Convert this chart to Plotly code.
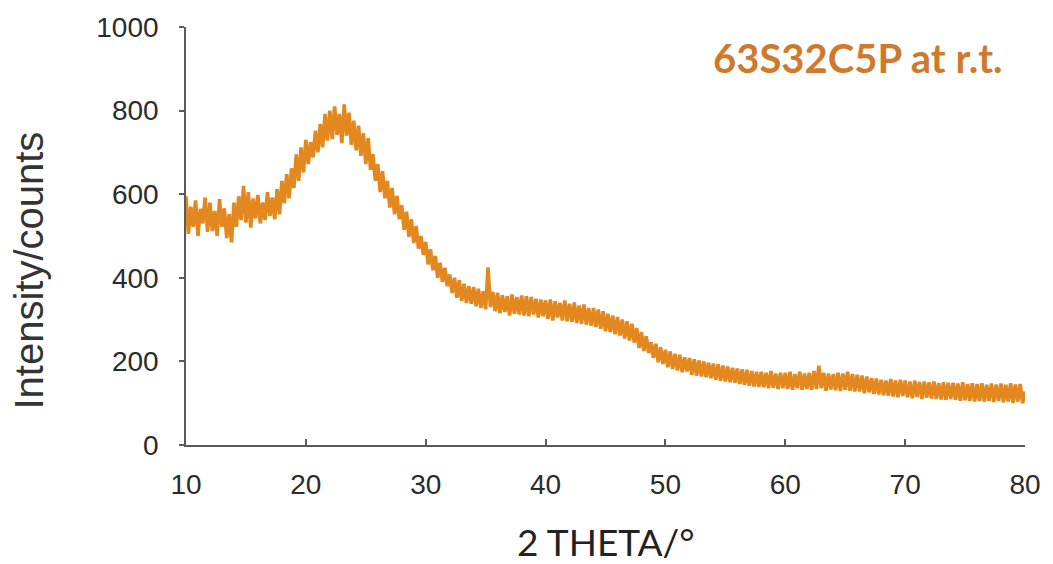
import numpy as np
import plotly.graph_objects as go

# 2-theta grid: 10.0 .. 80.0 deg, step 0.2
theta_start = 10.0
theta_step = 0.2
n_points = 351

# Intensity (counts), one row per 2 degrees
intensity = [
    595, 505, 570, 522, 585, 500, 565, 530, 592, 510,   # 10-12
    580, 512, 560, 500, 588, 522, 566, 495, 552, 485,   # 12-14
    580, 522, 595, 538, 620, 532, 605, 520, 590, 542,   # 14-16
    598, 530, 580, 538, 605, 548, 592, 540, 612, 552,   # 16-18
    632, 578, 648, 590, 662, 615, 695, 632, 712, 652,   # 18-20
    730, 672, 725, 688, 752, 700, 768, 712, 792, 728,   # 20-22
    800, 732, 810, 742, 792, 722, 815, 740, 795, 718,   # 22-24
    776, 705, 764, 692, 746, 672, 734, 658, 696, 632,   # 24-26
    672, 605, 655, 590, 632, 568, 615, 552, 596, 540,   # 26-28
    574, 515, 558, 498, 540, 483, 524, 470, 500, 455,   # 28-30
    486, 432, 468, 418, 452, 400, 436, 390, 424, 380,   # 30-32
    408, 364, 400, 352, 394, 345, 386, 340, 380, 338,   # 32-34
    378, 332, 374, 328, 368, 325, 425, 330, 366, 320,   # 34-36
    364, 315, 358, 318, 356, 310, 360, 314, 354, 312,   # 36-38
    358, 310, 356, 308, 354, 312, 350, 305, 348, 308,   # 38-40
    346, 302, 348, 298, 344, 305, 340, 298, 346, 296,   # 40-42
    338, 295, 341, 292, 334, 290, 336, 288, 328, 285,   # 42-44
    328, 282, 324, 278, 320, 272, 314, 270, 310, 265,   # 44-46
    306, 262, 300, 255, 296, 250, 290, 245, 280, 232,   # 46-48
    270, 225, 260, 220, 246, 208, 242, 198, 234, 194,   # 48-50
    228, 186, 224, 182, 218, 178, 216, 174, 210, 176,   # 50-52
    208, 168, 205, 166, 202, 164, 200, 162, 197, 160,   # 52-54
    195, 156, 193, 154, 190, 152, 188, 150, 185, 149,   # 54-56
    183, 146, 181, 144, 180, 142, 177, 140, 175, 139,   # 56-58
    175, 138, 173, 136, 177, 137, 171, 134, 173, 136,   # 58-60
    173, 134, 175, 132, 170, 136, 175, 132, 171, 134,   # 60-62
    173, 132, 177, 134, 190, 136, 173, 130, 171, 133,   # 62-64
    170, 131, 173, 129, 171, 132, 175, 130, 170, 128,   # 64-66
    168, 128, 166, 124, 164, 126, 160, 122, 159, 121,   # 66-68
    156, 119, 154, 118, 158, 116, 154, 114, 156, 117,   # 68-70
    154, 114, 152, 112, 154, 115, 151, 110, 152, 113,   # 70-72
    150, 111, 152, 110, 148, 109, 150, 108, 149, 110,   # 72-74
    149, 108, 147, 106, 150, 107, 146, 106, 148, 104,   # 74-76
    146, 105, 148, 104, 144, 106, 147, 103, 145, 105,   # 76-78
    147, 102, 144, 104, 148, 101, 145, 104, 146, 100,   # 78-80
    128,
]
theta = np.round(theta_start + theta_step * np.arange(n_points), 1)

x_ticks = [10, 20, 30, 40, 50, 60, 70, 80]
y_ticks = [0, 200, 400, 600, 800, 1000]

sample_label = "63S32C5P at r.t."
x_title = "2 THETA/°"
y_title = "Intensity/counts"

line_color = "#E3871F"
label_color = "#CF792C"
axis_color = "#5a5a5a"
text_color = "#2b2b2b"

# plot-area pixel geometry
L, R, T, B = 186, 1028, 27, 445

fig = go.Figure()
fig.add_trace(go.Scatter(
    x=theta, y=intensity, mode="lines",
    line=dict(color=line_color, width=3.6),
    showlegend=False, hoverinfo="skip",
))

fig.update_layout(
    width=1053, height=564,
    margin=dict(l=L, r=1053 - R, t=T, b=564 - B),
    paper_bgcolor="white", plot_bgcolor="white",
    font=dict(family="Liberation Sans, Arial, sans-serif", color=text_color),
)
fig.update_xaxes(
    range=[10, 80], tickvals=x_ticks,
    ticks="inside", ticklen=6, tickwidth=1.5, tickcolor=axis_color,
    showline=True, linecolor=axis_color, linewidth=1.6,
    showgrid=False, zeroline=False,
    tickfont=dict(size=28, family="Liberation Sans, Arial, sans-serif", color=text_color),
    ticklabelstandoff=14,
)
fig.update_yaxes(
    range=[0, 1000], tickvals=y_ticks,
    ticks="outside", ticklen=5, tickwidth=2, tickcolor=axis_color,
    showline=True, linecolor=axis_color, linewidth=1.6,
    showgrid=False, zeroline=False,
    tickfont=dict(size=28, family="Liberation Sans, Arial, sans-serif", color=text_color),
    ticklabelstandoff=15,
)

W, H = R - L, B - T
fig.add_annotation(
    text=y_title, xref="paper", yref="paper",
    x=(28 - L) / W, y=(B - 271) / H,
    textangle=-90, showarrow=False, xanchor="center", yanchor="middle",
    font=dict(size=40, family="Liberation Sans, Arial, sans-serif", color="#333333"),
)
fig.add_annotation(
    text=x_title, xref="paper", yref="paper",
    x=(607 - L) / W, y=(B - 541) / H,
    showarrow=False, xanchor="center", yanchor="middle",
    font=dict(size=37, family="Lato, Open Sans, sans-serif", color="#222222"),
)
fig.add_annotation(
    text="<b>" + sample_label + "</b>", xref="paper", yref="paper",
    x=(1008 - L) / W, y=(B - 58) / H,
    showarrow=False, xanchor="right", yanchor="middle",
    font=dict(size=40, family="Lato, Open Sans, sans-serif", color=label_color),
)

fig.write_html("out.html")
